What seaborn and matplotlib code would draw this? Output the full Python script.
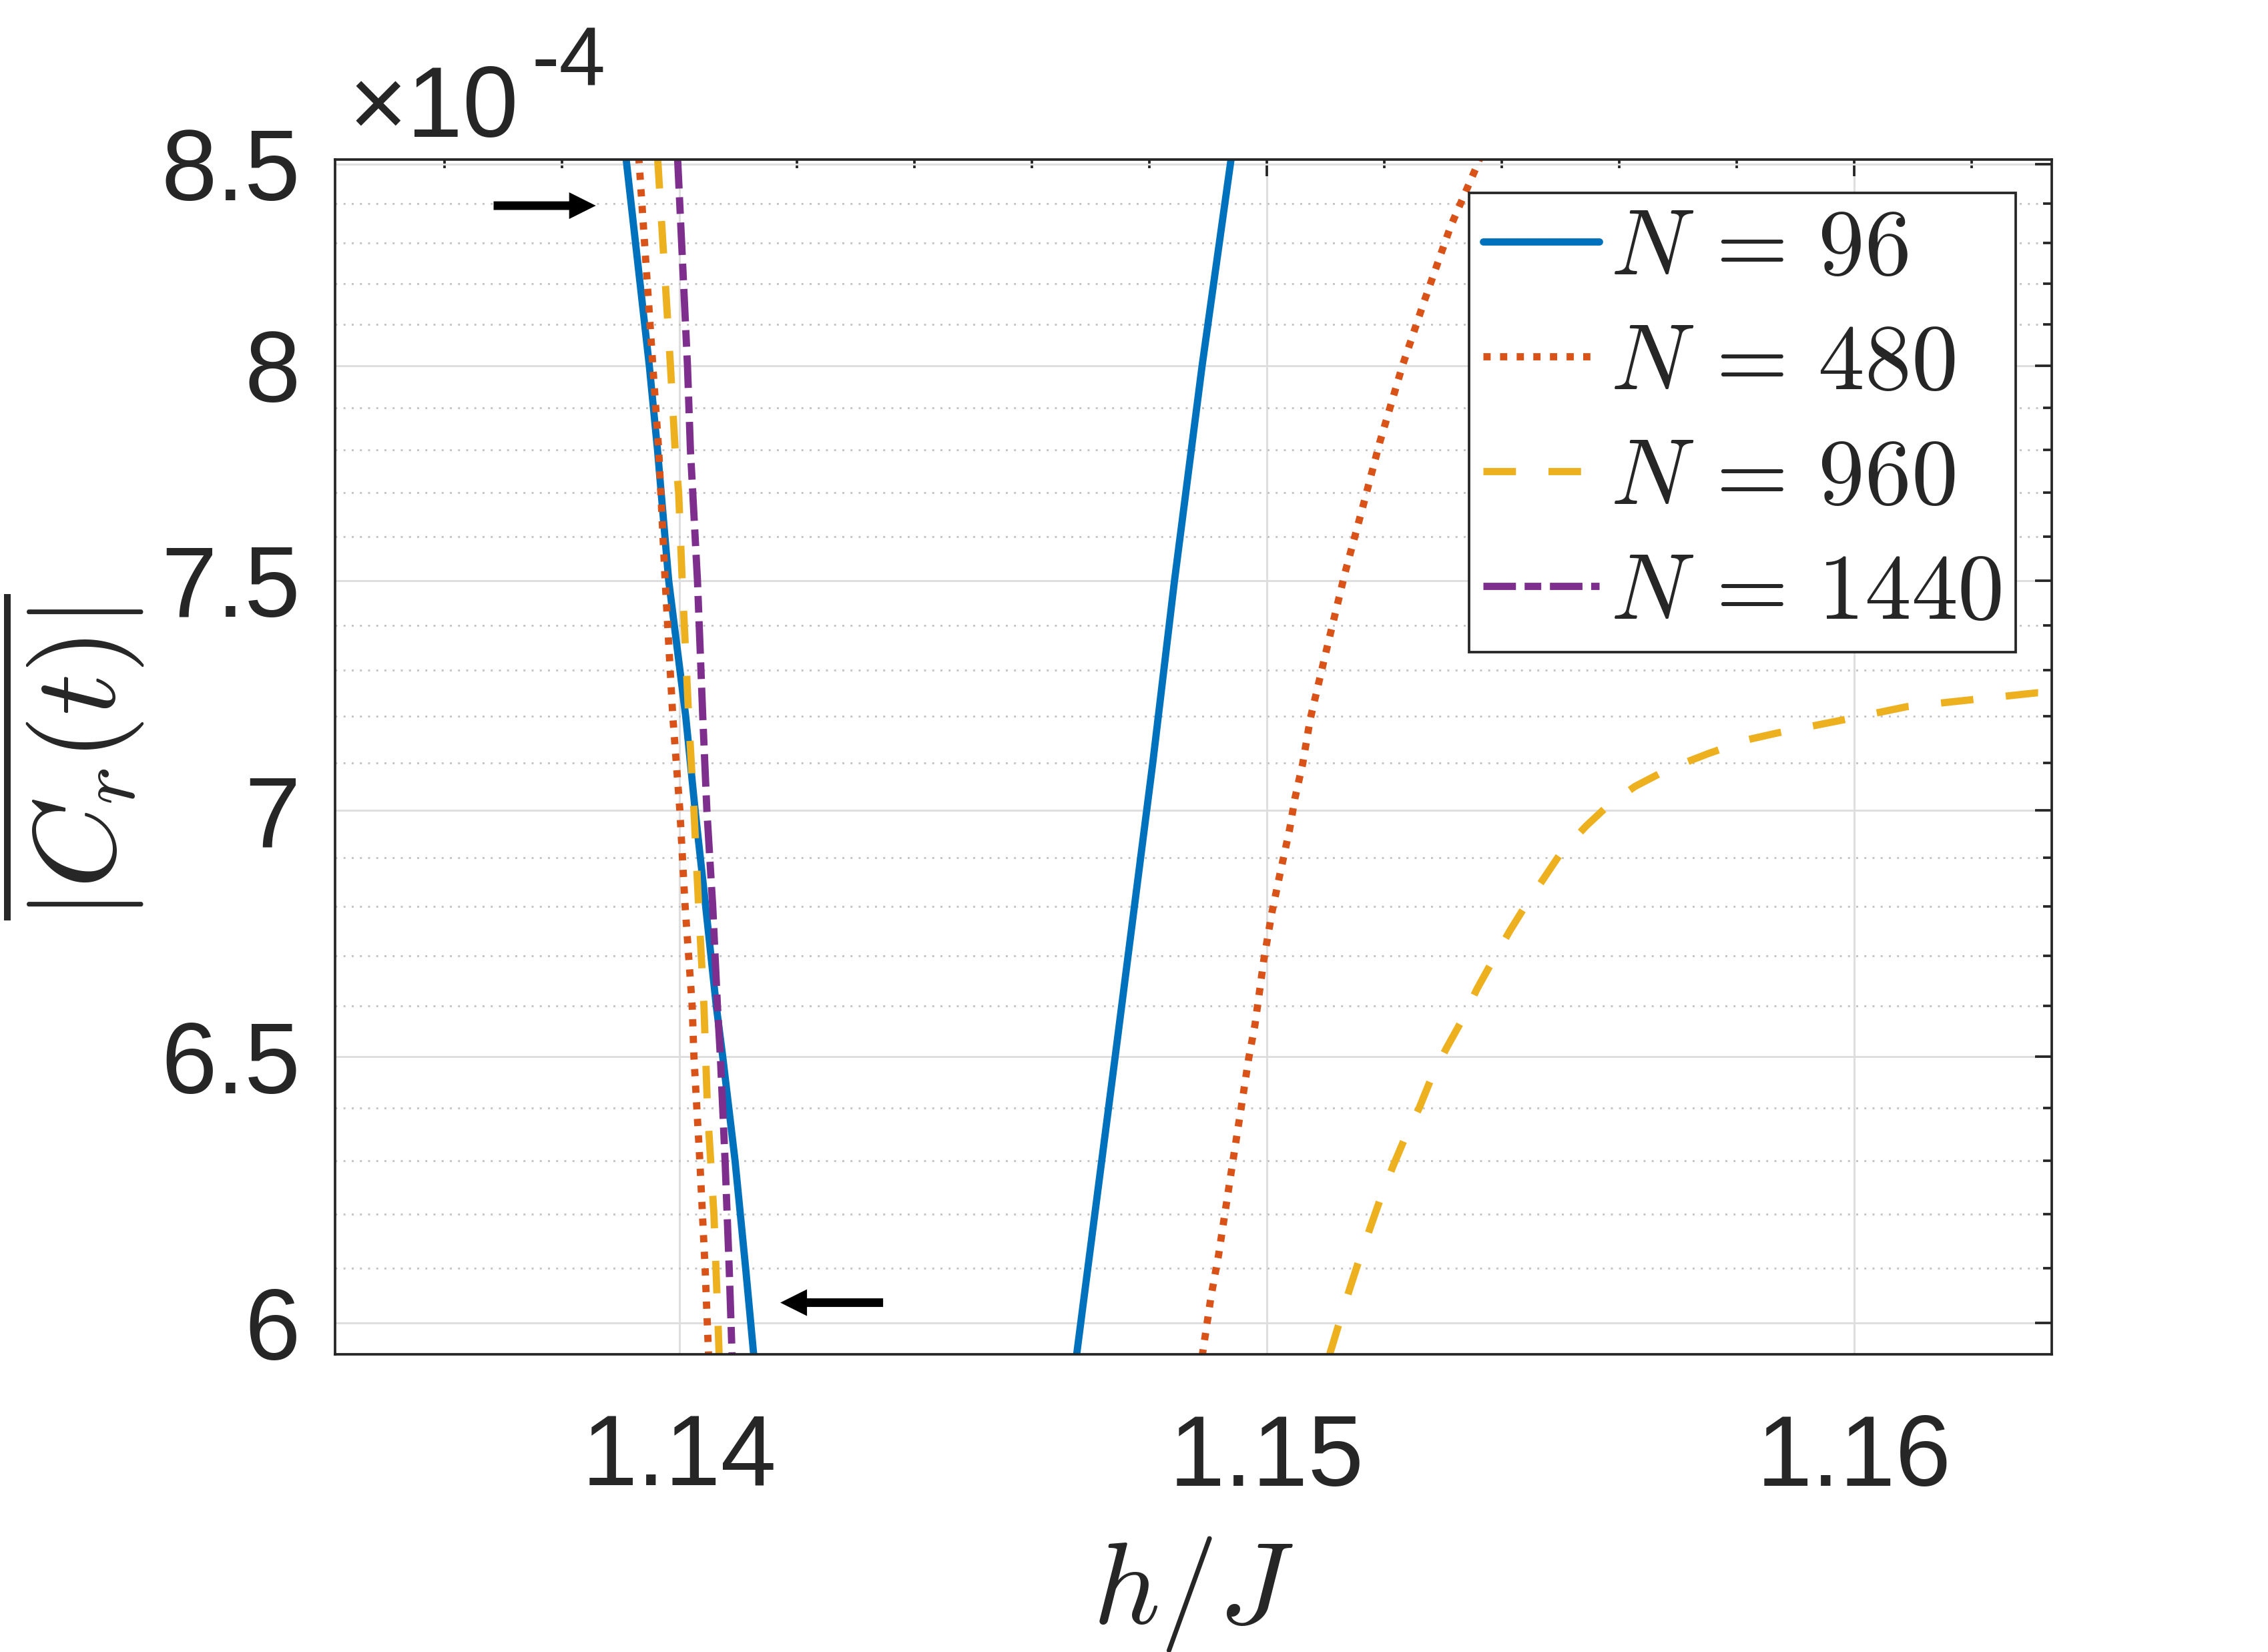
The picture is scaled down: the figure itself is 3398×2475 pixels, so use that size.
"""
Mean Loschmidt-type correlator near the critical field, zoomed window.
Values read off the reference figure; C is given in units of 1e-4.
"""

import numpy as np
import pandas as pd
import matplotlib
matplotlib.use("Agg")
import matplotlib.pyplot as plt
from matplotlib.lines import Line2D
from matplotlib.ticker import FixedLocator, FixedFormatter, NullFormatter
import seaborn as sns

# ── Data (h/J on x, |C_r(t)| x 1e4 on y) ──────────────────────────────────────
n96_left_h = [1.13909, 1.13949, 1.13963, 1.13982, 1.14011, 1.14027, 1.14045,
              1.14063, 1.14074, 1.14095, 1.14113, 1.14127]
n96_left_c = [8.52, 8.0, 7.8, 7.5, 7.2, 7.0, 6.8, 6.6, 6.5, 6.3, 6.1, 5.94]
n96_right_h = [1.14676, 1.14742, 1.14806, 1.14843, 1.14890, 1.14940]
n96_right_c = [5.94, 6.5, 7.1, 7.5, 8.0, 8.52]

n480_left_h = [1.13931, 1.13955, 1.13965, 1.13976, 1.13989, 1.14001, 1.14010,
               1.14022, 1.14025, 1.14035, 1.14044, 1.14050]
n480_left_c = [8.52, 8.0, 7.8, 7.5, 7.2, 7.0, 6.8, 6.6, 6.5, 6.3, 6.1, 5.94]
n480_right_h = [1.14890, 1.14905, 1.14918, 1.14931, 1.14944, 1.14957, 1.14969,
                1.14980, 1.14995, 1.15009, 1.15022, 1.15039, 1.15048, 1.15061,
                1.15074, 1.15100, 1.15133, 1.15163, 1.15192, 1.15231, 1.15267,
                1.15313, 1.15358, 1.15364]
n480_right_c = [5.94, 6.047, 6.124, 6.217, 6.311, 6.405, 6.495, 6.563, 6.692,
                6.789, 6.864, 6.960, 7.025, 7.097, 7.194, 7.336, 7.516, 7.665,
                7.816, 8.0, 8.152, 8.342, 8.496, 8.52]

n960_left_h = [1.13963, 1.13985, 1.13993, 1.13999, 1.14005, 1.14016, 1.14025,
               1.14033, 1.14042, 1.14045, 1.14048, 1.14059, 1.14066, 1.14068]
n960_left_c = [8.52, 8.0, 7.8, 7.7, 7.5, 7.2, 7.0, 6.8, 6.6, 6.5, 6.4, 6.2, 6.0, 5.94]
n960_right_h = [1.15106, 1.15123, 1.15140, 1.15156, 1.15175, 1.15192, 1.15215,
                1.15234, 1.15260, 1.15280, 1.15306, 1.15332, 1.15358, 1.15384,
                1.15414, 1.15440, 1.15475, 1.15501, 1.15544, 1.15583, 1.15627,
                1.15684, 1.15752, 1.15820, 1.15869, 1.15980, 1.16090, 1.16200,
                1.16311, 1.16340]
n960_right_c = [5.94, 5.999, 6.058, 6.111, 6.171, 6.224, 6.290, 6.340, 6.402,
                6.458, 6.517, 6.571, 6.634, 6.689, 6.751, 6.801, 6.864, 6.911,
                6.967, 7.012, 7.050, 7.087, 7.120, 7.150, 7.164, 7.192, 7.221,
                7.236, 7.251, 7.250]

n1440_left_h = [1.13997, 1.14014, 1.14019, 1.14023, 1.14031, 1.14040, 1.14047,
                1.14057, 1.14065, 1.14070, 1.14078, 1.14085, 1.14090]
n1440_left_c = [8.52, 8.0, 7.8, 7.7, 7.5, 7.2, 7.0, 6.8, 6.6, 6.5, 6.3, 6.1, 5.94]

sizes = ["96", "480", "960", "1440"]
legend_labels = [r"$N\,=\,96$", r"$N\,=\,480$", r"$N\,=\,960$", r"$N\,=\,1440$"]

xlim = [1.13414, 1.16336]
ylim = [5.944, 8.511]
xticks = [1.14, 1.15, 1.16]
xtick_labels = ["1.14", "1.15", "1.16"]
xminor = [1.136, 1.138, 1.142, 1.144, 1.146, 1.148, 1.152, 1.154, 1.156,
          1.158, 1.162]
yticks = [6.0, 6.5, 7.0, 7.5, 8.0, 8.5]
ytick_labels = ["6", "6.5", "7", "7.5", "8", "8.5"]
yminor = [6.1, 6.2, 6.3, 6.4, 6.6, 6.7, 6.8, 6.9, 7.1, 7.2, 7.3, 7.4,
          7.6, 7.7, 7.8, 7.9, 8.1, 8.2, 8.3, 8.4]

# the two black arrows marking the crossing window
arrow_tail_h = [1.13684, 1.14347]
arrow_tip_h = [1.13858, 1.14172]
arrow_c = [8.394, 6.037]

# ── Long-form table for seaborn ───────────────────────────────────────────────
segments = [
    ("96", "a", n96_left_h, n96_left_c),
    ("96", "b", n96_right_h, n96_right_c),
    ("480", "a", n480_left_h, n480_left_c),
    ("480", "b", n480_right_h, n480_right_c),
    ("960", "a", n960_left_h, n960_left_c),
    ("960", "b", n960_right_h, n960_right_c),
    ("1440", "a", n1440_left_h, n1440_left_c),
]
frames = []
for n, br, h, c in segments:
    frames.append(pd.DataFrame({"h": h, "C": c, "N": n, "branch": n + br}))
df = pd.concat(frames, ignore_index=True)

colors = {"96": "#0072BD", "480": "#D95319", "960": "#EDB120", "1440": "#7E2F8E"}
dashes = {"96": "", "480": (1.0, 1.3), "960": (4.5, 4.5),
          "1440": (4.5, 1.2, 2.3, 1.2)}
LW = 2.6
INK = "#262626"

# ── Figure ────────────────────────────────────────────────────────────────────
sns.set_style("white")
plt.rcParams["font.family"] = ["Liberation Sans", "DejaVu Sans"]
plt.rcParams["mathtext.fontset"] = "cm"

fig = plt.figure(figsize=(3398 / 300, 2475 / 300), dpi=300)
ax = fig.add_axes([0.1477, 0.1802, 0.7569, 0.7232])

sns.lineplot(
    data=df, x="h", y="C", hue="N", style="N", units="branch",
    estimator=None, sort=False, hue_order=sizes, style_order=sizes,
    palette=colors, dashes=dashes, linewidth=LW, legend=False, ax=ax,
)

ax.set_yscale("log")
ax.set_xlim(xlim)
ax.set_ylim(ylim)

ax.xaxis.set_major_locator(FixedLocator(xticks))
ax.xaxis.set_major_formatter(FixedFormatter(xtick_labels))
ax.xaxis.set_minor_locator(FixedLocator(xminor))
ax.yaxis.set_major_locator(FixedLocator(yticks))
ax.yaxis.set_major_formatter(FixedFormatter(ytick_labels))
ax.yaxis.set_minor_locator(FixedLocator(yminor))
ax.yaxis.set_minor_formatter(NullFormatter())

ax.grid(which="major", color="#DEDEDE", linewidth=0.7, linestyle="-")
ax.grid(which="minor", axis="y", color="#C4C4C4", linewidth=0.7,
        linestyle=(0, (1, 3.2)))
ax.set_axisbelow(True)

ax.tick_params(which="both", direction="in", top=True, right=True,
               color=INK, labelcolor=INK, width=0.9)
ax.tick_params(which="major", length=6)
ax.tick_params(which="minor", length=3.2)
ax.tick_params(axis="y", which="major", labelsize=36, pad=12.5)
ax.tick_params(axis="x", which="major", labelsize=36, pad=21)
for sp in ax.spines.values():
    sp.set_color(INK)
    sp.set_linewidth(0.9)
    sp.set_visible(True)

ax.set_xlabel(r"$h/J$", fontsize=42, color=INK)
ax.xaxis.set_label_coords(0.5, -0.151)
ax.set_ylabel(r"$\overline{|C_r(t)|}$", fontsize=42, color=INK)
ax.yaxis.set_label_coords(-0.110, 0.5)

# exponent label in the MATLAB style
fig.text(523 / 3398, 1 - 205 / 2475, "\u00d710", fontsize=36, color=INK,
         ha="left", va="baseline")
fig.text(796 / 3398, 1 - 127 / 2475, "-4", fontsize=30, color=INK,
         ha="left", va="baseline")

for t0, t1, c in zip(arrow_tail_h, arrow_tip_h, arrow_c):
    ax.annotate(
        "", xy=(t1, c), xytext=(t0, c),
        arrowprops=dict(arrowstyle="simple,head_length=0.96,head_width=0.96,tail_width=0.31",
                        mutation_scale=10, color="black", lw=0,
                        shrinkA=0, shrinkB=0),
    )

handles = [
    Line2D([], [], color=colors[n], linewidth=LW,
           linestyle="-" if dashes[n] == "" else (0, dashes[n]))
    for n in sizes
]
leg = ax.legend(
    handles, legend_labels, loc="upper left", bbox_to_anchor=(0.6606, 0.9721),
    borderaxespad=0, fontsize=33.5, frameon=True, fancybox=False,
    framealpha=1, edgecolor=INK, handlelength=1.25, handletextpad=0.12,
    labelspacing=0.30, borderpad=0.15,
)
leg.get_frame().set_linewidth(0.9)

fig.savefig("out.png", dpi=300)
